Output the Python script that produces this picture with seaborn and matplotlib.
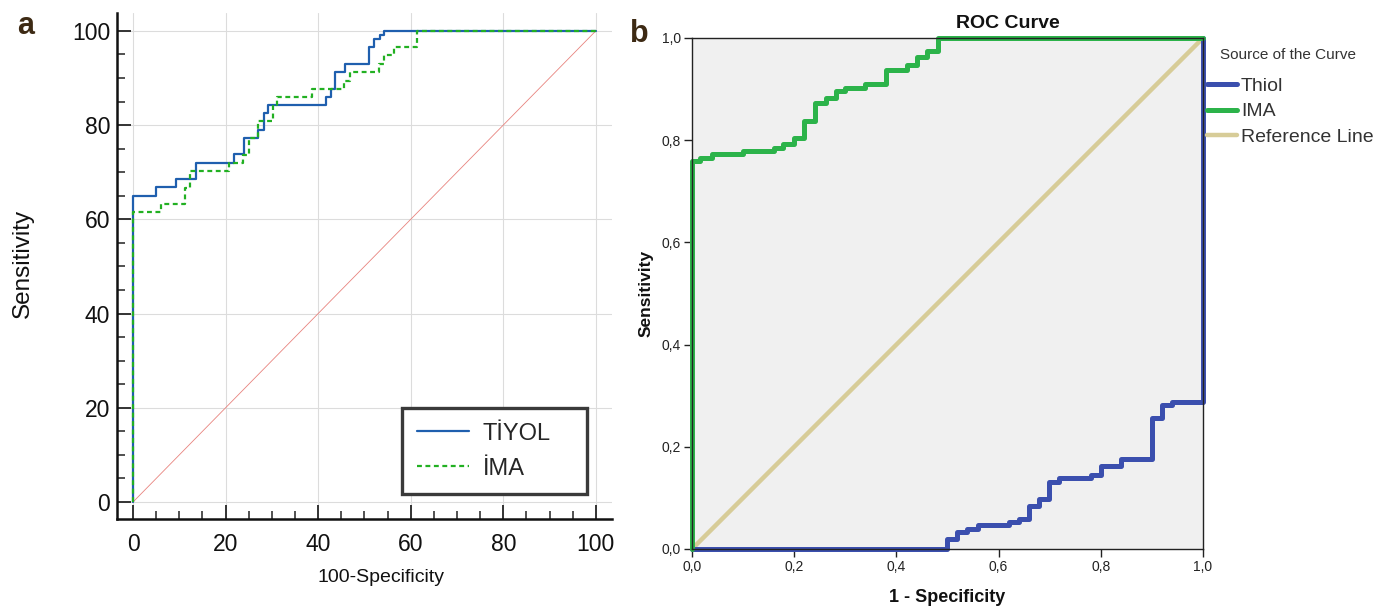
import numpy as np
import pandas as pd
import matplotlib
matplotlib.use("Agg")
import matplotlib.pyplot as plt
import seaborn as sns
from matplotlib.ticker import MultipleLocator, FixedLocator

# panel a data (100-specificity, sensitivity) - ROC steps
tiyol_fpr = [0, 0, 5.05, 9.2, 13.5, 21.9, 24.0, 27.1, 28.2, 29.1, 41.7, 42.7, 43.7, 45.8, 51.0, 52.1, 53.3, 54.2, 100]
tiyol_tpr = [0, 65.0, 66.9, 68.5, 72.0, 73.8, 77.3, 79.0, 82.5, 84.3, 86.0, 87.7, 91.2, 93.0, 96.5, 98.3, 99.2, 100, 100]
ima_fpr = [0, 0, 6.1, 11.3, 12.4, 20.7, 23.8, 25.0, 27.0, 30.2, 31.2, 38.6, 45.6, 46.8, 53.1, 54.2, 56.3, 61.4, 100]
ima_tpr = [0, 61.5, 63.2, 66.7, 70.2, 72.0, 73.7, 77.3, 80.8, 84.3, 85.9, 87.7, 89.4, 91.2, 93.0, 94.8, 96.5, 100, 100]
ref_a = [0, 100]
labels_a = ["TİYOL", "İMA"]

# panel b data (1 - specificity, sensitivity)
thiol_fpr = [0, 0.499, 0.518, 0.539, 0.56, 0.62, 0.64, 0.659, 0.679, 0.699, 0.719, 0.78, 0.80, 0.84, 0.90, 0.92, 0.939, 1.0]
thiol_tpr = [0, 0.020, 0.033, 0.040, 0.046, 0.052, 0.059, 0.085, 0.098, 0.131, 0.138, 0.144, 0.163, 0.176, 0.257, 0.281, 0.287, 1.0]
imab_fpr = [0, 0, 0.016, 0.04, 0.10, 0.16, 0.179, 0.20, 0.22, 0.241, 0.262, 0.281, 0.30, 0.339, 0.38, 0.421, 0.44, 0.46, 0.481, 1.0]
imab_tpr = [0, 0.759, 0.766, 0.773, 0.779, 0.785, 0.792, 0.805, 0.838, 0.872, 0.883, 0.897, 0.903, 0.910, 0.937, 0.948, 0.962, 0.975, 1.0, 1.0]
ref_b = [0, 1]
labels_b = ["Thiol", "IMA", "Reference Line"]
ticks_b = [0, 0.2, 0.4, 0.6, 0.8, 1.0]
ticklabels_b = ["0,0", "0,2", "0,4", "0,6", "0,8", "1,0"]

sns.set_theme(style="white")
plt.rcParams['font.family'] = ['Liberation Sans', 'DejaVu Sans']

fig = plt.figure(figsize=(13.75, 6.06), dpi=100)

# ---------- panel a ----------
ax = fig.add_axes([0.0851, 0.1436, 0.36, 0.835])
sns.lineplot(x=ref_a, y=ref_a, ax=ax, color="#e8837e", lw=0.6, estimator=None, sort=False)
sns.lineplot(x=tiyol_fpr, y=tiyol_tpr, ax=ax, color="#1f5fae", lw=1.6, estimator=None,
             sort=False, drawstyle="steps-post", clip_on=False)
sns.lineplot(x=ima_fpr, y=ima_tpr, ax=ax, color="#22b022", lw=1.6, estimator=None,
             sort=False, drawstyle="steps-post", linestyle=(0, (2.2, 1.6)), clip_on=False)
ax.set_xlim(-3.46, 103.5)
ax.set_ylim(-3.6, 103.8)
ax.xaxis.set_major_locator(FixedLocator([0, 20, 40, 60, 80, 100]))
ax.yaxis.set_major_locator(FixedLocator([0, 20, 40, 60, 80, 100]))
ax.xaxis.set_minor_locator(FixedLocator(np.arange(0, 101, 5)))
ax.yaxis.set_minor_locator(FixedLocator(np.arange(0, 101, 5)))
ax.grid(True, which="major", color="#dcdcdc", lw=0.8)
for s in ["top", "right"]:
    ax.spines[s].set_visible(False)
for s in ["left", "bottom"]:
    ax.spines[s].set_linewidth(1.8)
    ax.spines[s].set_color("#111111")
ax.tick_params(which="major", direction="in", length=10, width=1.4, color="#333333",
               labelsize=16.5, labelcolor="#111111")
ax.tick_params(which="minor", direction="in", length=5.5, width=1.2, color="#333333")
ax.tick_params(axis="x", which="both", bottom=True, pad=10)
ax.tick_params(axis="y", which="both", left=True, pad=5)
ax.set_xlabel("100-Specificity", fontsize=14, color="#111111")
ax.set_ylabel("Sensitivity", fontsize=17.5, color="#111111")
ax.xaxis.set_label_coords(0.533, -0.098)
ax.yaxis.set_label_coords(-0.168, 0.505)
leg = ax.legend(handles=ax.lines[1:3], labels=labels_a, loc="lower left",
                bbox_to_anchor=(0.576, 0.049, 0.374, 0.2), mode="expand", borderaxespad=0,
                fontsize=17, fancybox=False, framealpha=1, borderpad=0.62,
                handlelength=2.2, handletextpad=0.6, labelspacing=0.55)
leg.get_frame().set_edgecolor("#3a3a3a")
leg.get_frame().set_linewidth(2.4)
fig.text(26 / 1375, 1 - 34 / 606, "a", fontsize=22, fontweight="bold", color="#3d2a14",
         ha="center", va="baseline")

# ---------- panel b ----------
bx = fig.add_axes([0.5033, 0.0941, 0.3716, 0.8432])
bx.set_facecolor("#f0f0f0")
sns.lineplot(x=ref_b, y=ref_b, ax=bx, color="#d7cc98", lw=3.2, estimator=None, sort=False)
sns.lineplot(x=thiol_fpr, y=thiol_tpr, ax=bx, color="#3b4fae", lw=3.6, estimator=None,
             sort=False, drawstyle="steps-post", clip_on=False)
sns.lineplot(x=imab_fpr, y=imab_tpr, ax=bx, color="#2cb34a", lw=3.6, estimator=None,
             sort=False, drawstyle="steps-post", clip_on=False)
bx.set_xlim(0, 1)
bx.set_ylim(0, 1)
bx.set_xticks(ticks_b)
bx.set_xticklabels(ticklabels_b)
bx.set_yticks(ticks_b)
bx.set_yticklabels(ticklabels_b)
for s in bx.spines.values():
    s.set_visible(True)
    s.set_color("#222222")
    s.set_linewidth(1.0)
bx.tick_params(direction="out", length=6, width=1, color="#222222", labelsize=10,
               labelcolor="#222222", bottom=True, left=True, pad=2)
bx.set_xlabel("1 - Specificity", fontsize=13, fontweight="bold", color="#111111")
bx.set_ylabel("Sensitivity", fontsize=12.5, fontweight="bold", color="#111111")
bx.xaxis.set_label_coords(0.499, -0.078)
bx.yaxis.set_label_coords(-0.076, 0.5)
bx.text(0.618, 1 + 10 / 511, "ROC Curve", transform=bx.transAxes, ha="center",
        va="baseline", fontsize=14, fontweight="bold", color="#111111")
legb = bx.legend(handles=[bx.lines[1], bx.lines[2], bx.lines[0]], labels=labels_b,
                 loc="upper left", bbox_to_anchor=(1207 / 1375, 1 - 77 / 606),
                 bbox_transform=fig.transFigure, borderaxespad=0, frameon=False,
                 fontsize=14, borderpad=0, handlelength=1.55, handletextpad=0.2,
                 labelspacing=0.42)
for t in legb.get_texts():
    t.set_color("#333333")
fig.text(1220 / 1375, 1 - 55 / 606, "Source of the Curve", fontsize=11, color="#333333",
         ha="left", va="center")
fig.text(639 / 1375, 1 - 42 / 606, "b", fontsize=22, fontweight="bold", color="#3d2a14",
         ha="center", va="baseline")

fig.savefig("out.png", dpi=100)
